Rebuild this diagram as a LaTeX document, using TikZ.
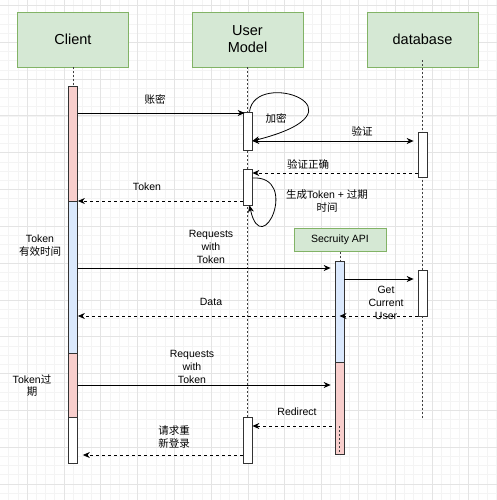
\documentclass[tikz,border=0pt]{standalone}
\usepackage{fontspec}
\setmainfont{Liberation Sans}
\newfontfamily\cjk{Noto Sans CJK SC}
\usetikzlibrary{arrows.meta,positioning,calc}
\definecolor{boxgreen}{HTML}{D5E8D4}
\definecolor{linegreen}{HTML}{82B366}
\definecolor{barred}{HTML}{F8CECC}
\definecolor{barblue}{HTML}{DAE8FC}
\definecolor{gridminor}{HTML}{F4F4F4}
\definecolor{gridmajor}{HTML}{E4E4E4}
\newcommand{\msgfont}{\fontsize{10.5}{12.7}\selectfont}
\tikzstyle{actor}   = [draw=linegreen, fill=boxgreen, line width=0.8pt, minimum width=111pt, minimum height=55pt, align=center, font=\fontsize{14.5}{17}\selectfont]
\tikzstyle{apibox}  = [draw=linegreen, fill=boxgreen, line width=0.8pt, minimum width=92pt, minimum height=23pt, font=\msgfont]
\tikzstyle{bar}     = [draw=black!80, fill=white, line width=0.7pt, minimum width=9pt, inner sep=0pt]
\tikzstyle{redbar}  = [bar, fill=barred]
\tikzstyle{bluebar} = [bar, fill=barblue]
\tikzstyle{life}    = [black!75, line width=0.6pt, dash pattern=on 2pt off 2pt]
\tikzstyle{arrow}   = [line width=0.8pt, -{Stealth[length=7pt,width=6pt]}]
\tikzstyle{back}    = [arrow, dash pattern=on 3pt off 3pt]
\tikzstyle{lbl}     = [font=\msgfont, align=center, inner sep=0pt]

\begin{document}
\begin{tikzpicture}[x=1pt, y=-1pt]
    \useasboundingbox (0,0) rectangle (497,500);
    \fill[white] (0,0) rectangle (497,500);
    % grid
    \foreach \x in {8.6,17.8,...,497} \draw[gridminor, line width=0.5pt] (\x,0) -- (\x,500);
    \foreach \y in {5.4,14.6,...,500} \draw[gridminor, line width=0.5pt] (0,\y) -- (497,\y);
    \foreach \x in {27,63.8,...,497} \draw[gridmajor, line width=0.6pt] (\x,0) -- (\x,500);
    \foreach \y in {5.4,42.2,...,500} \draw[gridmajor, line width=0.6pt] (0,\y) -- (497,\y);

    % participants
    \node[actor] (client) at (73,39.5) {Client};
    \node[actor] (user) at (247.5,39.5) {User\\Model};
    \node[actor] (db) at (422.5,39.5) {database};
    \node[apibox] (api) at (340,240) {Secruity API};

    % message rows
    \coordinate (m1) at (0,113);
    \coordinate (m2) at (0,141);
    \coordinate (m3) at (0,173);
    \coordinate (m4) at (0,201);
    \coordinate (m5) at (0,268);
    \coordinate (m6) at (0,279);
    \coordinate (m7) at (0,316);
    \coordinate (m8) at (0,385);
    \coordinate (m9) at (0,426);
    \coordinate (m10) at (0,455);
    \coordinate (uend) at (0,417);
    \coordinate (dend) at (0,418);

    % lifelines
    \draw[life] (client.south) -- (client.south |- m1);
    \draw[life] (user.south) -- (user.south |- uend);
    \draw[life] ([yshift=7pt]db.south) -- (db.south |- dend);
    \draw[life] (api.south) -- (api.south |- m5);

    % activation bars
    \node[redbar, minimum height=115pt] (cred1) at (73,143.5) {};
    \node[bluebar, minimum height=152pt] (cblue) at (73,277) {};
    \node[redbar, minimum height=64pt] (cred2) at (73,385) {};
    \node[bar, minimum height=46pt] (cwhite) at (73,440) {};
    \node[bar, minimum height=38pt] (u1) at (247.5,131) {};
    \node[bar, minimum height=36pt] (u2) at (247.5,187) {};
    \node[bar, minimum height=46pt] (u3) at (247.5,440) {};
    \node[bar, minimum height=45pt] (d1) at (422.5,154.5) {};
    \node[bar, minimum height=46pt] (d2) at (422.5,293) {};
    \node[bluebar, minimum height=101pt] (ablue) at (339.5,311.5) {};
    \node[redbar, minimum height=92pt] (ared) at (339.5,408) {};
    \draw[life] (ared.center |- m9) -- (ared.south);

    % messages
    \draw[arrow] (cred1.east |- m1) -- ([xshift=2pt]u1.west |- m1);
    \draw[arrow] ([xshift=2pt]u1.north) .. controls +(5.5,-44) and +(123,-31) .. (u1.east |- m2);
    \draw[line width=0.8pt, {Stealth[length=7pt,width=6pt]}-{Stealth[length=7pt,width=6pt]}, shorten >=4pt] (u1.east |- m2) -- (d1.west |- m2);
    \draw[back] (d1.west |- m3) -- (u2.east |- m3);
    \draw[back] (u2.west |- m4) -- (cblue.east |- m4);
    \draw[arrow] ([yshift=9pt]u2.east) .. controls +(48,-3) and +(12.5,57) .. ([xshift=2pt]u2.south);
    \draw[arrow, shorten >=4pt] (cblue.east |- m5) -- (ablue.west |- m5);
    \draw[arrow, shorten >=4pt] (ablue.east |- m6) -- (d2.west |- m6);
    \draw[back] (d2.west |- m7) -- (ablue.center |- m7);
    \draw[back] (ablue.west |- m7) -- (cblue.east |- m7);
    \draw[arrow, shorten >=4pt] (cred2.east |- m8) -- (ared.west |- m8);
    \draw[back] ([xshift=-3pt]ared.west |- m9) -- (u3.east |- m9);
    \draw[back, shorten >=5pt] (u3.west |- m10) -- (cwhite.east |- m10);

    % labels
    \node[lbl] (l1) at (155,99) {\cjk 账密};
    \node[lbl] (l2) at (276,118) {\cjk 加密};
    \node[lbl] (l3) at (362,131) {\cjk 验证};
    \node[lbl] (l4) at (308,164) {\cjk 验证正确};
    \node[lbl] (l5) at (147,187) {Token};
    \node[lbl] (l6) at (327,201) {{\cjk 生成}Token + {\cjk 过期}\\{\cjk 时间}};
    \node[lbl] (l7) at (40,245.5) {Token\\{\cjk 有效时间}};
    \node[lbl] (l8) at (211,247) {Requests\\with\\Token};
    \node[lbl] (l9) at (386,303) {Get\\Current\\User};
    \node[lbl] (l10) at (211,302) {Data};
    \node[lbl] (l11) at (32,385.5) {Token{\cjk 过}\\{\cjk 期}};
    \node[lbl] (l12) at (192,367) {Requests\\with\\Token};
    \node[lbl] (l13) at (297,412) {Redirect};
    \node[lbl] (l14) at (174,437) {{\cjk 请求重}\\{\cjk 新登录}};
\end{tikzpicture}
\end{document}
